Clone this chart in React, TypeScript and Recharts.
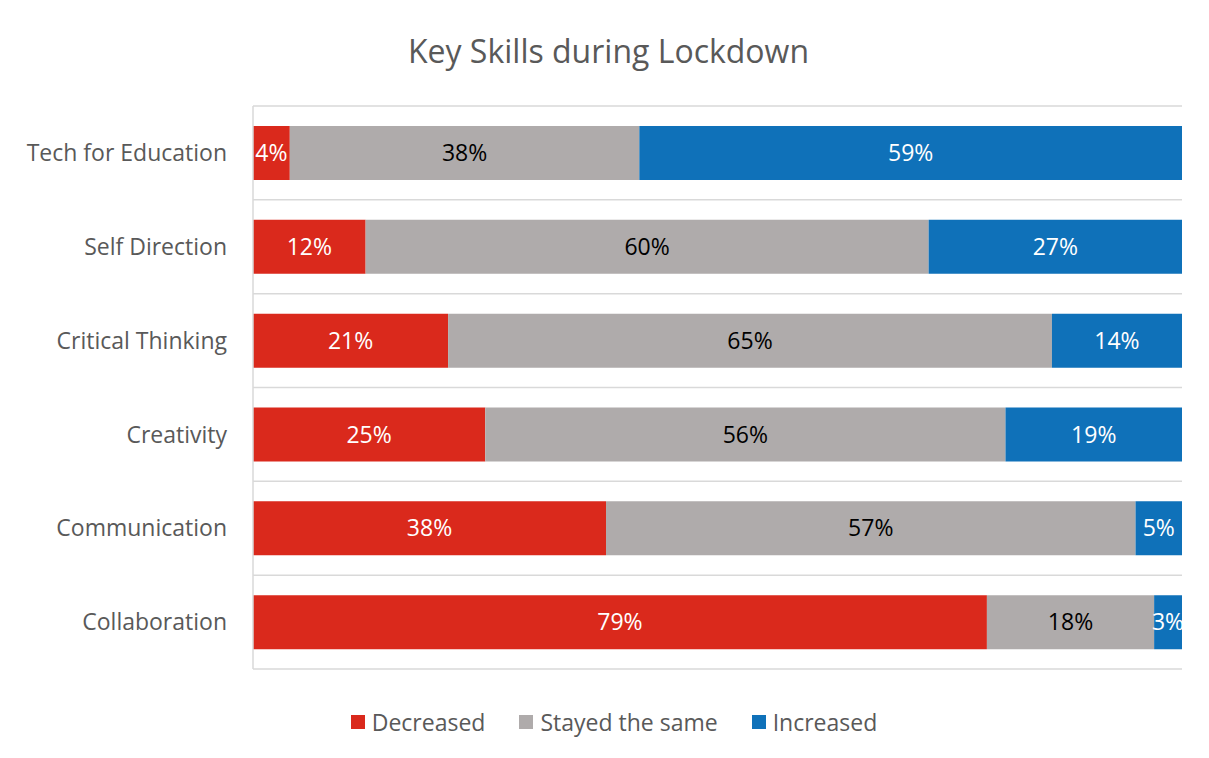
import React from 'react';
import { BarChart, Bar, XAxis, YAxis, CartesianGrid, LabelList, Legend } from 'recharts';

const title = 'Key Skills during Lockdown';
const categories = [
  'Tech for Education',
  'Self Direction',
  'Critical Thinking',
  'Creativity',
  'Communication',
  'Collaboration',
];
const decreased = [4, 12, 21, 25, 38, 79];
const stayedSame = [38, 60, 65, 56, 57, 18];
const increased = [59, 27, 14, 19, 5, 3];
const seriesNames = ['Decreased', 'Stayed the same', 'Increased'];

const COLORS = ['#DA291C', '#AFABAB', '#0F71B9'];
const TEXT = '#595959';
const FONT = '"Open Sans", sans-serif';

const data = categories.map((c, i) => ({
  category: c,
  decreased: decreased[i],
  same: stayedSame[i],
  increased: increased[i],
}));

const pct = (v: any) => `${v}%`;

const renderLegend = (props: any) => {
  const payload = [...(props.payload || [])].sort(
    (a: any, b: any) => seriesNames.indexOf(a.value) - seriesNames.indexOf(b.value)
  );
  return (
    <div
      style={{
        height: 79,
        boxSizing: 'border-box',
        paddingTop: 40,
        paddingLeft: 38,
        display: 'flex',
        justifyContent: 'center',
        alignItems: 'flex-start',
        fontFamily: FONT,
        fontSize: 23,
        color: TEXT,
        lineHeight: '26px',
      }}
    >
      {payload.map((p: any, i: number) => (
        <div key={i} style={{ display: 'flex', alignItems: 'center', marginLeft: i === 0 ? 0 : 34 }}>
          <div style={{ width: 14, height: 14, background: p.color, marginRight: 7 }} />
          <span>{p.value}</span>
        </div>
      ))}
    </div>
  );
};

export default function App() {
  return (
    <div style={{ position: 'relative', width: 1201, height: 750, fontFamily: FONT }}>
      <div
        style={{
          position: 'absolute',
          left: -2,
          top: -2,
          width: 1203,
          height: 752,
          borderLeft: '2px solid #dedede',
          borderTop: '2px solid #dedede',
          boxSizing: 'border-box',
          pointerEvents: 'none',
        }}
      />
      <div
        style={{
          position: 'absolute',
          left: 0,
          top: 21,
          width: 1201,
          textAlign: 'center',
          fontSize: 32,
          lineHeight: '44px',
          color: TEXT,
        }}
      >
        {title}
      </div>
      <BarChart
        width={1201}
        height={750}
        data={data}
        layout="vertical"
        stackOffset="expand"
        barSize={54}
        margin={{ top: 98, right: 27, left: 0, bottom: 10 }}
      >
        <CartesianGrid
          vertical={false}
          stroke="#d9d9d9"
          strokeWidth={1.5}
          horizontalCoordinatesGenerator={({ offset }: any) =>
            categories.map((_, i) => offset.top + (i * offset.height) / categories.length).concat([offset.top + offset.height])
          }
        />
        <XAxis type="number" hide domain={[0, 1]} />
        <YAxis
          type="category"
          dataKey="category"
          width={245}
          axisLine={{ stroke: '#d9d9d9', strokeWidth: 1.5 }}
          tickLine={false}
          tickSize={6}
          tickMargin={20}
          tick={{ fill: TEXT, fontSize: 23, fontFamily: FONT }}
        />
        <Legend verticalAlign="bottom" content={renderLegend} />
        <Bar dataKey="decreased" name={seriesNames[0]} stackId="a" fill={COLORS[0]} isAnimationActive={false}>
          <LabelList dataKey="decreased" position="center" formatter={pct} fill="#ffffff" fontSize={23} fontFamily={FONT} />
        </Bar>
        <Bar dataKey="same" name={seriesNames[1]} stackId="a" fill={COLORS[1]} isAnimationActive={false}>
          <LabelList dataKey="same" position="center" formatter={pct} fill="#000000" fontSize={23} fontFamily={FONT} />
        </Bar>
        <Bar dataKey="increased" name={seriesNames[2]} stackId="a" fill={COLORS[2]} isAnimationActive={false}>
          <LabelList dataKey="increased" position="center" formatter={pct} fill="#ffffff" fontSize={23} fontFamily={FONT} />
        </Bar>
      </BarChart>
    </div>
  );
}
